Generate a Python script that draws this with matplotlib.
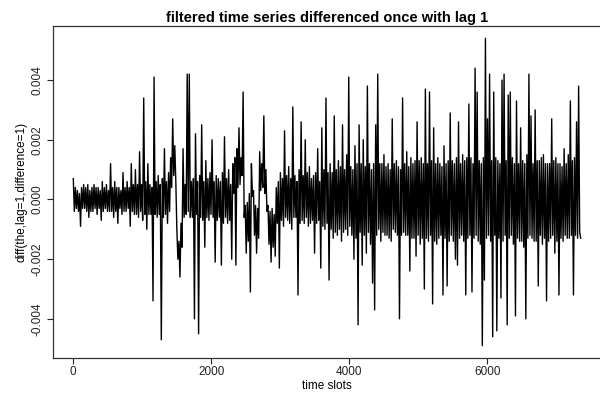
import numpy as np
import matplotlib
matplotlib.use("Agg")
import matplotlib.pyplot as plt

plt.rcParams['font.family'] = ['Liberation Sans', 'DejaVu Sans']
plt.rcParams['path.simplify'] = False  # keep every zigzag of the dense series

# differenced series in units of 1e-4,
# one reading every 15 time slots
step = 15
diff_e4 = [
    7, -4, 4, -3, 3, -4, 2, -9, 4, -3, 5, -3, 4, -4, 5, -6, 3, -4, 4, -4,
    5, -3, 4, -5, 4, -3, 3, -7, 6, -4, 4, -3, 5, -4, 3, -4, 12, -4, 4, -6,
    6, -4, 4, -8, 4, -3, 3, -5, 9, -4, 4, -4, 6, -3, 4, -9, 12, -4, 5, -5,
    10, -5, 5, -6, 16, -4, 5, -7, 34, -5, 6, -10, 12, -5, 5, -5, 4, -34, 41, -5,
    6, -6, 8, -5, 5, -47, 7, -6, 17, -5, 6, -8, 9, -4, 14, 4, 27, 8, 18, 6,
    -10, -20, -14, -26, -8, -16, 17, -6, 5, -5, 42, -4, 42, -6, 6, -6, 7, -40, 22, -5,
    6, -45, 8, -6, 25, -7, 6, -16, 13, -6, 7, -7, 9, -5, 20, -6, 6, -21, 8, -7,
    7, -6, 6, -22, 9, -8, 21, -6, 7, -8, 10, -7, 5, -20, 12, 2, 14, -22, 17, 4,
    24, 5, 14, 8, 36, -6, -2, -18, -1, -14, 2, -31, 12, 1, 3, -12, -2, -18, -3, -13,
    16, 3, 12, 4, 28, 2, 10, -4, -2, -15, -4, -21, -3, -16, -5, -19, 4, -8, 6, -23,
    9, -7, 7, -9, 23, -6, 8, -7, 11, -8, 7, -10, 31, -6, 8, -6, 6, -32, 10, -8,
    26, -7, 8, -8, 20, -6, 9, -9, 11, -8, 7, -7, 8, -18, 9, -8, 17, -7, 6, -23,
    24, -9, 10, -10, 34, -8, 9, -27, 12, -10, 9, -13, 28, -11, 10, -12, 13, -10, 11, -14,
    25, -11, 10, -10, 15, -12, 41, -9, 11, -12, 10, -20, 18, -13, 12, -42, 25, -11, 12, -22,
    20, -12, 11, -18, 38, -11, 12, -15, 10, -28, 12, -37, 25, -12, 42, -10, 12, -14, 12, -11,
    15, -12, 11, -12, 12, -13, 10, -14, 27, -10, 12, -11, 13, -12, 11, -40, 10, -12, 34, -11,
    12, -12, 16, -12, 11, -24, 14, -13, 12, -13, 13, -19, 26, -12, 13, -15, 14, -13, 12, -30,
    37, -13, 12, -14, 36, -12, 13, -35, 24, -14, 12, -15, 14, -13, 12, -12, 11, -32, 18, -13,
    12, -29, 13, -14, 29, -12, 13, -14, 12, -20, 14, -22, 26, -13, 12, -12, 15, -14, 13, -32,
    14, -13, 32, -12, 14, -31, 12, -13, 44, -12, 36, -14, 13, -15, 12, -49, 14, -27, 54, -13,
    27, -12, 42, -14, 13, -46, 36, -12, 14, -44, 13, -13, 12, -33, 40, -14, 42, -12, 13, -42,
    35, -13, 36, -12, 14, -15, 12, -39, 33, -13, 12, -14, 24, -14, 13, -16, 12, -40, 15, -13,
    42, -12, 28, -13, 12, -14, 30, -14, 13, -29, 13, -12, 14, -15, 15, -13, 12, -34, 12, -14,
    12, -13, 27, -12, 13, -18, 14, -14, 12, -32, 12, -13, 11, -14, 17, -12, 12, -13, 15, -13,
    33, -12, 13, -32, 14, -12, 26, -13, 38, -11, -13,
]

values = np.array(diff_e4) * 1e-4
slots = 1 + step * np.arange(len(values))

fig = plt.figure(figsize=(6, 3.96), dpi=100)
ax = fig.add_axes([53 / 600, 38 / 396, 548 / 600, 332 / 396])

ax.plot(slots, values, color='black', lw=1.0)
ax.margins(x=0.04, y=0.04)

ax.set_xticks([0, 2000, 4000, 6000])
ax.set_yticks([-0.004, -0.002, 0.0, 0.002, 0.004])
ax.set_yticklabels(['-0.004', '-0.002', '0.000', '0.002', '0.004'],
                   rotation=90, va='center')
ax.tick_params(direction='out', length=4, width=0.8, labelsize=8.5,
               colors='#222222')
ax.tick_params(axis='x', pad=1.5)
ax.tick_params(axis='y', pad=2.5)
for s in ax.spines.values():
    s.set_linewidth(0.9)
    s.set_color('#333333')

ax.set_xlabel('time slots', fontsize=8.5, labelpad=2)
ax.set_ylabel('diff(the,lag=1,difference=1)', fontsize=8.5)
ax.yaxis.set_label_coords(-0.046, 0.5)
ax.set_title('filtered time series differenced once with lag 1',
             fontsize=10.5, fontweight='bold', pad=3)

fig.savefig('out.png', dpi=100)
